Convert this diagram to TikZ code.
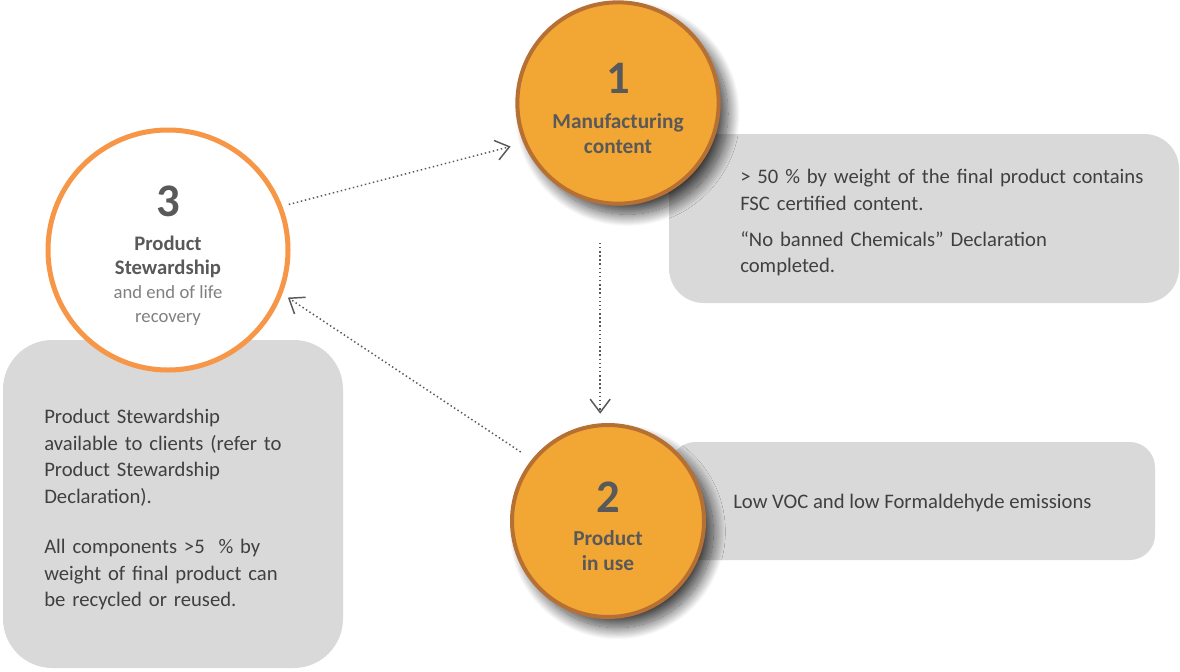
\documentclass[tikz,border=0pt]{standalone}
\usepackage{fontspec}
\setmainfont{Carlito}
\usetikzlibrary{arrows.meta,shadows.blur,fit}
\definecolor{stageorange}{RGB}{242,166,52}
\definecolor{stagebrown}{RGB}{183,112,51}
\definecolor{stewrim}{RGB}{247,150,70}
\definecolor{boxgray}{RGB}{217,217,217}
\definecolor{labelgray}{RGB}{89,89,89}
\definecolor{notegray}{RGB}{64,64,64}
\definecolor{softgray}{RGB}{128,128,128}
\begin{document}
\begin{tikzpicture}[x=0.75pt,y=-0.75pt]
\tikzstyle{stage}=[circle,draw,line width=3pt,align=center,inner sep=0pt,text=labelgray,font=\fontsize{16}{19}\selectfont\bfseries]
\tikzstyle{hotstage}=[stage,fill=stageorange,draw=stagebrown,blur shadow={shadow xshift=7pt,shadow yshift=-8pt,shadow blur radius=9pt,shadow blur steps=25,shadow opacity=75}]
\tikzstyle{infobox}=[rounded corners=26pt,fill=boxgray,inner sep=0pt]
\tikzstyle{note}=[anchor=north west,inner sep=0pt,align=left,text=notegray,font=\fontsize{15.5}{19.9}\selectfont]
\tikzstyle{flow}=[labelgray,line width=1.1pt,dotted,-{Straight Barb[length=10pt,width=15pt]}]
\newcommand{\stagenum}[1]{{\fontsize{35}{35}\selectfont\rule{0pt}{31pt}#1}}
\useasboundingbox (0,0) rectangle (1180,671);
% grey note boxes
\node[infobox,fit={(669,134) (1179,303)}] (fscbox) {};
\node[infobox,rounded corners=37pt,fit={(3,340) (343,668)}] (stewbox) {};
\node[infobox,rounded corners=19pt,fit={(670,442) (1155,560)}] (vocbox) {};
\node[note,text width=320pt] (fsctext) at (740,169) {> 50 \% by weight of the final product contains\\FSC certified content.\\[7pt]“No banned Chemicals” Declaration\\completed.};
\node[note,text width=200pt] (stewtext) at (44,409) {Product Stewardship\\available to clients (refer to\\Product Stewardship\\Declaration).\\[18pt]All components >5\ \ \% by\\weight of final product can\\be recycled or reused.};
\node[note,anchor=base west] (voctext) at (733,508) {Low VOC and low Formaldehyde emissions};
% stages
\node[hotstage,minimum size=151pt] (manu) at (618,103) {\stagenum{1}\\[6.75pt]Manufacturing\\content};
\node[hotstage,minimum size=144pt] (inuse) at (608,521) {\stagenum{2}\\[6pt]Product\\in use};
\node[stage,draw=stewrim,fill=white,line width=3.75pt,minimum size=180pt,font=\fontsize{15.5}{18}\selectfont\bfseries] (stew) at (168,250) {\stagenum{3}\\[7.5pt]Product\\Stewardship\\{\mdseries\fontsize{14}{17}\selectfont\color{softgray}and end of life}\\{\mdseries\fontsize{14}{17}\selectfont\color{softgray}recovery}};
\path[]
    (stew.21) [flow,shorten <=5pt,shorten >=10pt] edge (manu.203)
    (manu.260) [flow,shorten <=29pt,shorten >=7pt] edge (manu.260 |- inuse.north)
    (inuse.141) [flow,shorten <=10pt,shorten >=5pt] edge (stew.339);
\end{tikzpicture}
\end{document}
